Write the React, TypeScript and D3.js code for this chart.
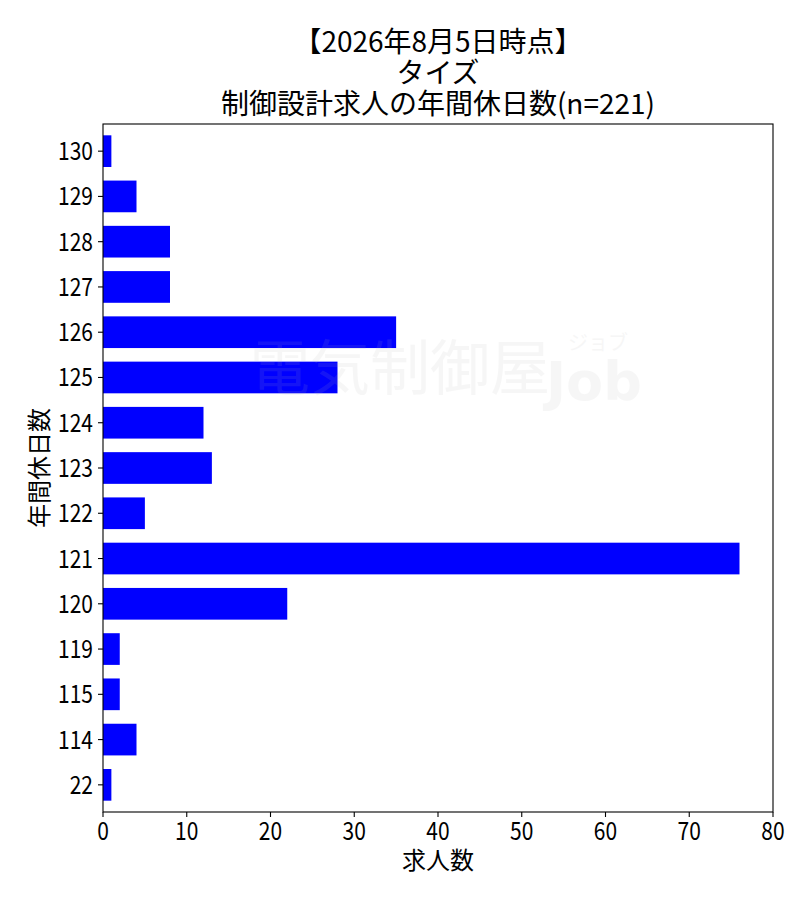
import React, { useRef, useEffect } from "react";
import * as d3 from "d3";

// annual holidays (top to bottom) and number of job offers
const holidays = ["130", "129", "128", "127", "126", "125", "124", "123", "122", "121", "120", "119", "115", "114", "22"];
const counts = [1, 4, 8, 8, 35, 28, 12, 13, 5, 76, 22, 2, 2, 4, 1];
const xTicks = [0, 10, 20, 30, 40, 50, 60, 70, 80];
const titleLines = ["【2026年8月5日時点】", "タイズ", "制御設計求人の年間休日数(n=221)"];

const FONT = "'Noto Sans CJK JP', 'Noto Sans', sans-serif";
// the original font has narrow digits
const NARROW = 0.84;

const App: React.FC = () => {
  const ref = useRef<SVGSVGElement | null>(null);
  const width = 800;
  const height = 900;
  const margin = { top: 124, right: 27, bottom: 88, left: 103 };

  useEffect(() => {
    document.body.style.margin = "0";
    const svg = d3.select(ref.current).attr("width", width).attr("height", height);
    svg.selectAll("*").remove();

    const innerW = width - margin.left - margin.right;
    const innerH = height - margin.top - margin.bottom;

    const x = d3.scaleLinear().domain([0, 80]).range([0, innerW]);
    // category index, first one at top
    const y = d3.scaleLinear().domain([-0.6, holidays.length - 0.4]).range([0, innerH]);
    const barH = y(0.7) - y(0);

    const g = svg.append("g").attr("transform", `translate(${margin.left},${margin.top})`);

    g.selectAll("rect.bar")
      .data(counts)
      .join("rect")
      .attr("class", "bar")
      .attr("x", 0)
      .attr("y", (_d, i) => y(i) - barH / 2)
      .attr("width", (d) => x(d))
      .attr("height", barH)
      .attr("fill", "#0000ff");

    // watermark
    const wm = svg.append("g").attr("fill", "#b4b4b4").attr("opacity", 0.11).style("pointer-events", "none");
    wm.append("text")
      .attr("x", 250)
      .attr("y", 390)
      .attr("font-family", FONT)
      .attr("font-size", 60)
      .text("電気制御屋");
    wm.append("text")
      .attr("x", 546)
      .attr("y", 400)
      .attr("font-family", "'DejaVu Sans', sans-serif")
      .attr("font-weight", "bold")
      .attr("font-size", 54)
      .text("Job");
    wm.append("text")
      .attr("x", 568)
      .attr("y", 350)
      .attr("font-family", FONT)
      .attr("font-size", 20)
      .text("ジョブ");

    // frame
    g.append("rect")
      .attr("x", 0)
      .attr("y", 0)
      .attr("width", innerW)
      .attr("height", innerH)
      .attr("fill", "none")
      .attr("stroke", "#000")
      .attr("stroke-width", 1.1);

    // x axis
    const xAxis = g.append("g").attr("transform", `translate(0,${innerH})`);
    xAxis.selectAll("line")
      .data(xTicks)
      .join("line")
      .attr("x1", (d) => x(d))
      .attr("x2", (d) => x(d))
      .attr("y1", 0)
      .attr("y2", 5)
      .attr("stroke", "#000")
      .attr("stroke-width", 1.1);
    xAxis.selectAll("text")
      .data(xTicks)
      .join("text")
      .attr("transform", (d) => `translate(${x(d)},28) scale(${NARROW},1)`)
      .attr("text-anchor", "middle")
      .attr("font-family", FONT)
      .attr("font-size", 25)
      .text((d) => d);

    // y axis
    const yAxis = g.append("g");
    yAxis.selectAll("line")
      .data(holidays)
      .join("line")
      .attr("x1", -5)
      .attr("x2", 0)
      .attr("y1", (_d, i) => y(i))
      .attr("y2", (_d, i) => y(i))
      .attr("stroke", "#000")
      .attr("stroke-width", 1.1);
    yAxis.selectAll("text")
      .data(holidays)
      .join("text")
      .attr("transform", (_d, i) => `translate(-10,${y(i)}) scale(${NARROW},1)`)
      .attr("dy", "0.36em")
      .attr("text-anchor", "end")
      .attr("font-family", FONT)
      .attr("font-size", 25)
      .text((d) => d);

    // axis labels
    svg.append("text")
      .attr("x", margin.left + innerW / 2)
      .attr("y", 869)
      .attr("text-anchor", "middle")
      .attr("font-family", FONT)
      .attr("font-size", 24)
      .text("求人数");

    svg.append("text")
      .attr("transform", `translate(48,${margin.top + innerH / 2}) rotate(-90)`)
      .attr("text-anchor", "middle")
      .attr("font-family", FONT)
      .attr("font-size", 24)
      .text("年間休日数");

    // title
    svg.append("g")
      .selectAll("text")
      .data(titleLines)
      .join("text")
      .attr("x", margin.left + innerW / 2)
      .attr("y", (_d, i) => 52 + i * 31)
      .attr("text-anchor", "middle")
      .attr("font-family", FONT)
      .attr("font-size", 28)
      .text((d) => d);
  }, []);

  return <svg ref={ref} style={{ display: "block" }}></svg>;
};

export default App;
